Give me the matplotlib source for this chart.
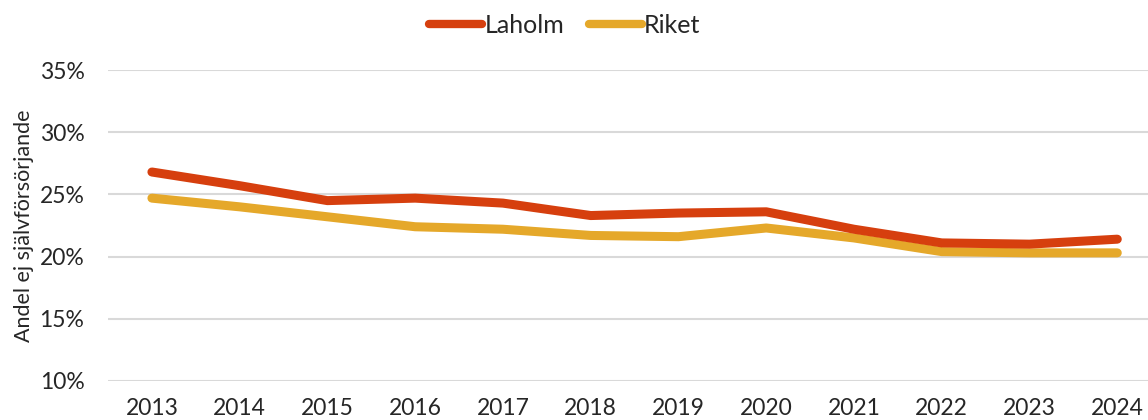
import matplotlib
matplotlib.use("Agg")
import matplotlib.pyplot as plt
from matplotlib.ticker import FuncFormatter

years = [2013, 2014, 2015, 2016, 2017, 2018, 2019, 2020, 2021, 2022, 2023, 2024]
laholm = [26.8, 25.7, 24.5, 24.7, 24.3, 23.3, 23.5, 23.6, 22.2, 21.1, 21.0, 21.4]
riket = [24.7, 24.0, 23.2, 22.4, 22.2, 21.7, 21.6, 22.3, 21.5, 20.4, 20.3, 20.3]
series_names = ["Laholm", "Riket"]
y_ticks = [10, 15, 20, 25, 30, 35]

plt.rcParams["font.family"] = ["Lato", "DejaVu Sans"]
text_color = "#262626"

fig = plt.figure(figsize=(11.48, 4.20), dpi=100)
ax = fig.add_axes([0.0941, 0.0929, 0.9059, 0.7404])

ax.plot(years, laholm, color="#D63F0E", lw=6.5, solid_capstyle="round",
        solid_joinstyle="round", label=series_names[0], zorder=3)
ax.plot(years, riket, color="#E5A82A", lw=6.5, solid_capstyle="round",
        solid_joinstyle="round", label=series_names[1], zorder=2)

ax.set_xlim(2012.5, 2024.35)
ax.set_ylim(10, 35)
ax.set_yticks(y_ticks)
ax.set_xticks(years)
ax.yaxis.set_major_formatter(FuncFormatter(lambda v, _: f"{v:.0f}%"))
ax.grid(axis="y", color="#D9D9D9", lw=1.5)
ax.set_axisbelow(True)
for s in ax.spines.values():
    s.set_visible(False)
ax.tick_params(axis="both", length=0, labelsize=16.5, labelcolor=text_color)
ax.tick_params(axis="y", pad=17)
ax.tick_params(axis="x", pad=12)

ax.set_ylabel("Andel ej självförsörjande", fontsize=15.5, color=text_color,
              labelpad=4)

leg = fig.legend(loc="upper center", bbox_to_anchor=(0.492, 1.02), ncol=2,
                 frameon=False, fontsize=18, handlelength=2.1,
                 handletextpad=0.1, columnspacing=1.0)
for t in leg.get_texts():
    t.set_color(text_color)
for h in leg.legend_handles:
    h.set_linewidth(6)
    h.set_solid_capstyle("round")

fig.savefig("out.png", dpi=100)
